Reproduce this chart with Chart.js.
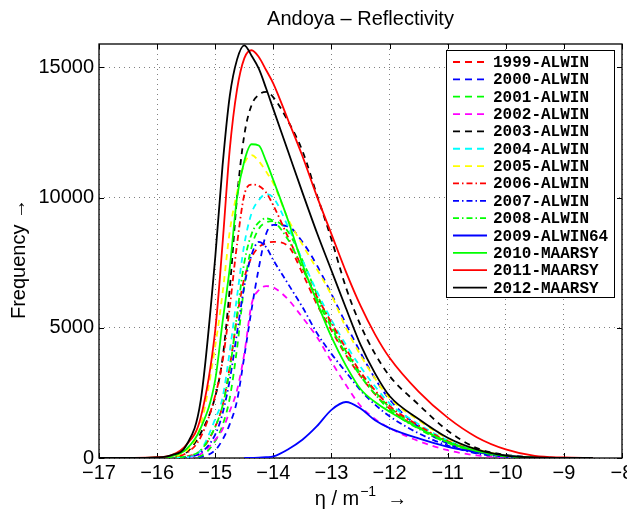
<!DOCTYPE html>
<html>
<head>
<meta charset="utf-8">
<script src="https://cdn.jsdelivr.net/npm/chart.js@4.4.1/dist/chart.umd.min.js"></script>
<style>
  html, body { margin: 0; padding: 0; background: #fff; }
</style>
</head>
<body>
<canvas id="myChart" width="627" height="515"></canvas>
<script>
// eta values (x) shared by every year
const eta = [-17, -16.5, -16, -15.75, -15.5, -15.25, -15, -14.875, -14.75, -14.625, -14.5, -14.375, -14.25, -14.125, -14,
  -13.75, -13.5, -13.25, -13, -12.75, -12.5, -12.25, -12, -11.5, -11, -10.5, -10, -9.5, -9, -8.5];
const xTicks = [-17, -16, -15, -14, -13, -12, -11, -10, -9, -8];
const yTicks = [0, 5000, 10000, 15000];

// frequency per year
const f1999 = [0,0,0,10,60,280,1200,2000,3500,5400,6900,7700,8100,8250,8300,8150,7100,5900,4900,3950,3150,2450,1900,1150,600,240,60,10,0,0];
const f2000 = [0,0,0,0,0,40,300,700,1300,2200,3900,5700,7300,8600,8950,8900,8300,7400,6300,5150,4050,3050,2250,1200,550,200,50,0,0,0];
const f2001 = [0,0,0,0,20,80,650,1250,2300,4200,6600,8100,8800,9050,9100,8700,7600,6300,5100,4100,3250,2550,1950,1200,620,250,70,10,0,0];
const f2002 = [0,0,0,0,20,150,700,1100,1800,2600,4000,5900,6450,6600,6550,6100,5400,4650,3700,2800,2000,1500,1150,650,300,100,30,0,0,0];
const f2003 = [0,0,0,30,200,950,2360,3800,6500,10000,12400,13550,13950,14060,13850,12950,11800,10100,8400,6550,5100,4000,3150,2050,1050,380,120,30,5,0];
const f2004 = [0,0,0,10,30,300,1500,2300,4100,6200,8200,9400,9900,10140,10000,8900,7600,6400,5300,4350,3500,2750,2100,1300,680,280,80,15,0,0];
const f2005 = [0,0,0,50,260,1250,4300,6300,8700,10200,11300,11630,11400,11000,10550,9200,8200,7250,6250,5000,3950,3050,2300,1450,750,330,100,20,0,0];
const f2006 = [0,0,0,30,180,800,2400,3700,5800,8200,10100,10500,10450,10200,9700,8500,7300,6200,5200,4200,3300,2600,2000,1250,650,270,80,15,0,0];
const f2007 = [0,0,0,0,30,200,900,1700,3000,4800,6600,7800,8300,8100,7600,6700,5800,4800,4000,3300,2600,2050,1600,950,480,180,50,0,0,0];
const f2008 = [0,0,0,10,60,300,1200,2000,3400,5500,7500,8600,9050,9200,9100,8400,7300,6100,5000,4000,3150,2450,1850,1120,580,230,60,10,0,0];
const f2009 = [null,null,null,null,null,null,null,null,null,null,0,5,10,30,60,330,700,1220,1850,2150,1900,1450,1150,750,430,230,90,20,0,0];
const f2010 = [0,0,10,70,330,1150,3000,5200,7300,10000,11400,12050,12000,11400,10670,9150,7450,6000,4650,3550,2650,2150,1780,1150,620,260,80,20,0,0];
const f2011 = [0,5,30,110,500,1550,4900,8200,11850,14150,15350,15660,15400,14900,14380,13000,11600,10050,8600,7150,5850,4750,3850,2550,1550,800,330,80,20,0];
const f2012 = [0,0,20,110,480,2200,7700,11200,13900,15300,15850,15450,14950,14200,13400,11800,10200,8650,7200,5750,4350,3250,2380,1500,780,330,90,20,5,0];

const labels = ['1999-ALWIN', '2000-ALWIN', '2001-ALWIN', '2002-ALWIN', '2003-ALWIN', '2004-ALWIN', '2005-ALWIN',
  '2006-ALWIN', '2007-ALWIN', '2008-ALWIN', '2009-ALWIN64', '2010-MAARSY', '2011-MAARSY', '2012-MAARSY'];
const series = [f1999, f2000, f2001, f2002, f2003, f2004, f2005, f2006, f2007, f2008, f2009, f2010, f2011, f2012];

// line styles (matlab like)
const colors = ['#ff0000', '#0000ff', '#00ff00', '#ff00ff', '#000000', '#00ffff', '#ffff00',
  '#ff0000', '#0000ff', '#00ff00', '#0000ff', '#00ff00', '#ff0000', '#000000'];
const dashed = [6, 5];
const dashDot = [6, 3, 1.5, 3];
const dashes = [dashed, dashed, dashed, dashed, dashed, dashed, dashed, dashDot, dashDot, dashDot, [], [], [], []];
const legendDashes = dashes.map(d => (d === dashed ? [7, 5] : d));

const datasets = series.map((s, i) => ({
  label: labels[i],
  data: eta.map((x, j) => ({ x: x, y: s[j] })),
  borderColor: colors[i],
  backgroundColor: colors[i],
  borderWidth: 1.8,
  borderDash: dashes[i],
  pointRadius: 0,
  cubicInterpolationMode: 'monotone',
  spanGaps: false,
  order: series.length - 1 - i
}));

const FONT = '"Liberation Sans", Arial, sans-serif';

// box + inner ticks under the lines, legend on top, then texts
const extras = {
  id: 'extras',
  beforeDatasetsDraw(chart) {
    const ctx = chart.ctx;
    const a = chart.chartArea;
    const xs = chart.scales.x, ys = chart.scales.y;
    ctx.save();
    ctx.strokeStyle = '#000';
    ctx.lineWidth = 1;
    ctx.setLineDash([]);
    ctx.beginPath();
    xTicks.forEach(v => {
      const px = Math.round(xs.getPixelForValue(v)) + 0.5;
      ctx.moveTo(px, a.bottom); ctx.lineTo(px, a.bottom - 5);
      ctx.moveTo(px, a.top); ctx.lineTo(px, a.top + 5);
    });
    yTicks.forEach(v => {
      const py = Math.round(ys.getPixelForValue(v)) + 0.5;
      ctx.moveTo(a.left, py); ctx.lineTo(a.left + 5, py);
      ctx.moveTo(a.right, py); ctx.lineTo(a.right - 5, py);
    });
    ctx.stroke();
    ctx.lineWidth = 1.3;
    ctx.strokeRect(a.left, a.top, a.right - a.left, a.bottom - a.top);
    ctx.restore();
  },
  afterDatasetsDraw(chart) {
    const ctx = chart.ctx;
    ctx.save();
    // legend
    const lx = 446.5, ly = 50.5, lw = 168, lh = 247;
    ctx.fillStyle = '#fff';
    ctx.fillRect(lx, ly, lw, lh);
    ctx.strokeStyle = '#000';
    ctx.lineWidth = 1;
    ctx.strokeRect(lx, ly, lw, lh);
    ctx.font = 'bold 16px "Liberation Mono", "Courier New", monospace';
    ctx.textBaseline = 'middle';
    ctx.textAlign = 'left';
    labels.forEach((lab, i) => {
      const yy = 62 + i * 17.35;
      ctx.setLineDash(legendDashes[i]);
      ctx.strokeStyle = colors[i];
      ctx.lineWidth = 1.8;
      ctx.beginPath();
      ctx.moveTo(453, yy); ctx.lineTo(487, yy);
      ctx.stroke();
      ctx.setLineDash([]);
      ctx.fillStyle = '#000';
      ctx.fillText(lab, 493, yy + 1);
    });
    ctx.restore();
  },
  afterDraw(chart) {
    const ctx = chart.ctx;
    const a = chart.chartArea;
    const cx = (a.left + a.right) / 2;
    ctx.save();
    ctx.fillStyle = '#000';
    ctx.textBaseline = 'alphabetic';
    ctx.textAlign = 'center';
    ctx.font = '20px ' + FONT;
    ctx.fillText('Andoya \u2013 Reflectivity', cx, 25);

    // x title with superscript
    const p1 = '\u03B7 / m', p2 = '\u22121', p3 = '  \u2192';
    ctx.font = '20px ' + FONT;
    const w1 = ctx.measureText(p1).width, w3 = ctx.measureText(p3).width;
    ctx.font = '14px ' + FONT;
    const w2 = ctx.measureText(p2).width;
    let x0 = cx - (w1 + w2 + w3) / 2;
    ctx.textAlign = 'left';
    ctx.font = '20px ' + FONT;
    ctx.fillText(p1, x0, 505);
    ctx.font = '14px ' + FONT;
    ctx.fillText(p2, x0 + w1 + 1, 496);
    ctx.font = '20px ' + FONT;
    ctx.fillText(p3, x0 + w1 + w2 + 1, 505);

    // y title
    ctx.translate(25, (a.top + a.bottom) / 2 + 8);
    ctx.rotate(-Math.PI / 2);
    ctx.textAlign = 'center';
    ctx.fillText('Frequency \u2192', 0, 0);
    ctx.restore();
  }
};

const config = {
  type: 'line',
  data: { datasets: datasets },
  options: {
    responsive: false,
    animation: false,
    layout: { padding: { top: 44, right: 5, left: 0, bottom: 0 } },
    plugins: { legend: { display: false }, title: { display: false }, tooltip: { enabled: false } },
    scales: {
      x: {
        type: 'linear',
        min: -17,
        max: -8,
        afterBuildTicks: s => { s.ticks = xTicks.map(v => ({ value: v })); },
        afterFit: s => { s.height = 57; s.paddingLeft = 0; s.paddingRight = 0; },
        grid: { color: 'rgba(0,0,0,0.5)', lineWidth: 1, drawTicks: false },
        border: { display: false, dash: [1, 4] },
        ticks: {
          color: '#000',
          padding: 3,
          maxRotation: 0,
          autoSkip: false,
          font: { family: FONT, size: 20 },
          callback: v => (v < 0 ? '\u2212' + Math.abs(v) : String(v))
        }
      },
      y: {
        min: 0,
        max: 15900,
        afterBuildTicks: s => { s.ticks = yTicks.map(v => ({ value: v })); },
        afterFit: s => { s.width = 99; s.paddingTop = 0; s.paddingBottom = 0; },
        grid: { color: 'rgba(0,0,0,0.5)', lineWidth: 1, drawTicks: false },
        border: { display: false, dash: [1, 4] },
        ticks: {
          color: '#000',
          padding: 5,
          font: { family: FONT, size: 20 },
          callback: v => String(v)
        }
      }
    }
  },
  plugins: [extras]
};

const myChart = new Chart(document.getElementById('myChart'), config);
</script>
</body>
</html>
